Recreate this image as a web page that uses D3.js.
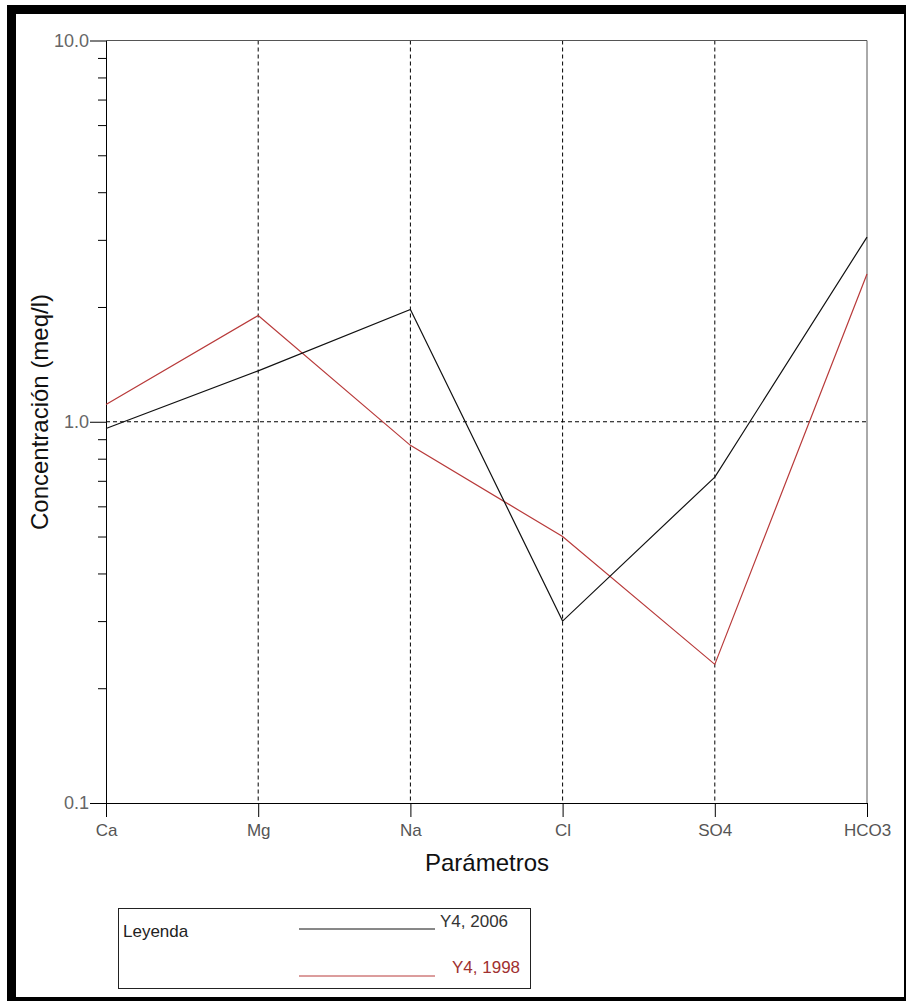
<!DOCTYPE html>
<html>
<head>
<meta charset="utf-8">
<script src="https://cdn.jsdelivr.net/npm/d3@7"></script>
<style>
  body { margin: 0; background: #fff; }
  svg { display: block; font-family: "Liberation Sans", Arial, sans-serif; }
</style>
</head>
<body>
<svg id="chart" width="906" height="1001"></svg>
<script>
// Дані графіка
var categories = ["Ca", "Mg", "Na", "Cl", "SO4", "HCO3"];
var serie2006 = [0.96, 1.36, 1.97, 0.30, 0.716, 3.05];
var serie1998 = [1.11, 1.90, 0.867, 0.50, 0.231, 2.44];
var majorTicks = [0.1, 1, 10];
var majorLabels = ["0.1", "1.0", "10.0"];
var minorTicks = [0.2, 0.3, 0.4, 0.5, 0.6, 0.7, 0.8, 0.9, 2, 3, 4, 5, 6, 7, 8, 9];
var legendNames = ["Y4, 2006", "Y4, 1998"];

var svg = d3.select("#chart"),
    margin = { left: 106, top: 40.5, right: 867, bottom: 803 },
    red = "#b83a3a";

var x = d3.scalePoint().domain(categories).range([margin.left, margin.right]);
var y = d3.scaleLog().domain([0.1, 10]).range([margin.bottom, margin.top]);

// Чорна рамка навколо малюнка
svg.append("rect").attr("x", 7).attr("y", 5).attr("width", 899).attr("height", 9).attr("fill", "#000");
svg.append("rect").attr("x", 7).attr("y", 5).attr("width", 9).attr("height", 996).attr("fill", "#000");
svg.append("rect").attr("x", 7).attr("y", 997).attr("width", 899).attr("height", 4).attr("fill", "#000");
svg.append("rect").attr("x", 904).attr("y", 5).attr("width", 2).attr("height", 996).attr("fill", "#000");

// Сітка (пунктир)
svg.append("g")
    .selectAll("line")
    .data(categories.slice(1, -1))
    .enter().append("line")
    .attr("x1", function (d) { return x(d); })
    .attr("x2", function (d) { return x(d); })
    .attr("y1", margin.top)
    .attr("y2", margin.bottom)
    .attr("stroke", "#000")
    .attr("stroke-dasharray", "4,3");

svg.append("line")
    .attr("x1", margin.left).attr("x2", margin.right)
    .attr("y1", y(1)).attr("y2", y(1))
    .attr("stroke", "#000")
    .attr("stroke-dasharray", "4,3");

// Верхня та права межі
svg.append("path")
    .attr("d", "M" + margin.left + "," + margin.top + "H" + margin.right + "V" + margin.bottom)
    .attr("fill", "none")
    .attr("stroke", "#555");

// Вісь Y
var yAxis = svg.append("g")
    .attr("transform", "translate(" + margin.left + ",0)")
    .call(d3.axisLeft(y).tickValues(majorTicks).tickSize(16).tickSizeOuter(0)
        .tickFormat(function (d, i) { return majorLabels[i]; }));

svg.append("g")
    .attr("transform", "translate(" + margin.left + ",0)")
    .call(d3.axisLeft(y).tickValues(minorTicks).tickSize(8).tickFormat(""))
    .select(".domain").remove();

// Вісь X
var xAxis = svg.append("g")
    .attr("transform", "translate(0," + margin.bottom + ")")
    .call(d3.axisBottom(x).tickSize(14).tickSizeOuter(0));

xAxis.select(".domain").attr("d", "M90,0.5H" + margin.right);

svg.selectAll(".tick line").attr("stroke", "#000");
svg.selectAll(".domain").attr("stroke", "#000");

yAxis.selectAll("text")
    .attr("font-size", 18)
    .attr("fill", "#666")
    .attr("font-family", "Liberation Sans, Arial, sans-serif")
    .attr("x", -17);

xAxis.selectAll("text")
    .attr("font-size", 17)
    .attr("fill", "#555")
    .attr("font-family", "Liberation Sans, Arial, sans-serif")
    .attr("y", 21);

// Лінії серій
var line = d3.line()
    .x(function (d, i) { return x(categories[i]); })
    .y(function (d) { return y(d); });

svg.append("path")
    .datum(serie1998)
    .attr("d", line)
    .attr("fill", "none")
    .attr("stroke", red)
    .attr("stroke-width", 1.2);

svg.append("path")
    .datum(serie2006)
    .attr("d", line)
    .attr("fill", "none")
    .attr("stroke", "#111")
    .attr("stroke-width", 1.2);

// Підписи осей
svg.append("text")
    .attr("transform", "translate(48,412) rotate(-90)")
    .attr("text-anchor", "middle")
    .attr("font-size", 24)
    .attr("fill", "#111")
    .text("Concentración (meq/l)");

svg.append("text")
    .attr("x", 487)
    .attr("y", 871)
    .attr("text-anchor", "middle")
    .attr("font-size", 24)
    .attr("fill", "#111")
    .text("Parámetros");

// Легенда
var legend = svg.append("g");

legend.append("rect")
    .attr("x", 118.5).attr("y", 908.5)
    .attr("width", 412).attr("height", 80)
    .attr("fill", "none")
    .attr("stroke", "#222");

legend.append("text")
    .attr("x", 123).attr("y", 937)
    .attr("font-size", 17)
    .attr("fill", "#222")
    .text("Leyenda");

var legendColors = ["#111", red];
var legendLineY = [929, 976];
var legendTextX = [440, 452];
var legendTextY = [927, 973];

legend.selectAll(".leg-line")
    .data(legendNames)
    .enter().append("line")
    .attr("class", "leg-line")
    .attr("x1", 299).attr("x2", 435)
    .attr("y1", function (d, i) { return legendLineY[i]; })
    .attr("y2", function (d, i) { return legendLineY[i]; })
    .attr("stroke", function (d, i) { return legendColors[i]; });

legend.selectAll(".leg-text")
    .data(legendNames)
    .enter().append("text")
    .attr("class", "leg-text")
    .attr("x", function (d, i) { return legendTextX[i]; })
    .attr("y", function (d, i) { return legendTextY[i]; })
    .attr("font-size", 17)
    .attr("fill", function (d, i) { return i === 0 ? "#333" : "#a03030"; })
    .text(function (d) { return d; });
</script>
</body>
</html>
